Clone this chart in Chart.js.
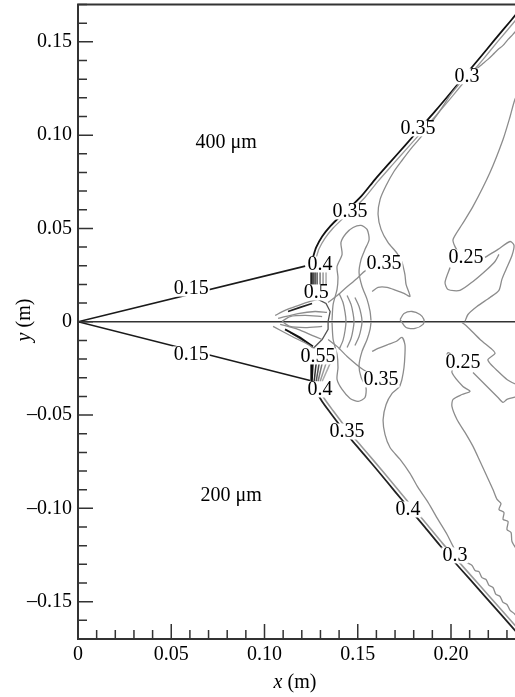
<!DOCTYPE html>
<html>
<head>
<meta charset="utf-8">
<title>Contours autour du cône</title>
<script src="https://cdn.jsdelivr.net/npm/chart.js@4.4.1/dist/chart.umd.min.js"></script>
<style>
html, body { margin: 0; padding: 0; background: #fff; overflow: hidden; }
#wrap { width: 540px; height: 697px; }
</style>
</head>
<body>
<div id="wrap"><canvas id="chart" width="540" height="697"></canvas></div>
<script>
const SERIF = '"Liberation Serif", "Times New Roman", serif';

// axes
const xTicks = [0, 0.05, 0.10, 0.15, 0.20];
const xTickLabels = ['0', '0.05', '0.10', '0.15', '0.20'];
const yTicks = [-0.15, -0.10, -0.05, 0, 0.05, 0.10, 0.15];
const yTickLabels = ['\u20130.15', '\u20130.10', '\u20130.05', '0', '0.05', '0.10', '0.15'];

// corps conique + axe de symétrie
const coneUpper = [[0, 0], [0.1218, 0.0298]];
const coneLower = [[0, 0], [0.1244, -0.0315]];
const axisLine = [[0, 0], [0.25, 0]];

// choc détaché (haut / bas) et sa ligne grise voisine
const shockUpper = [[0.1260,0.0345],[0.1277,0.0398],[0.1309,0.0457],[0.1352,0.0511],[0.1405,0.0564],[0.1459,0.0613],[0.1523,0.0677],[0.1593,0.0763],[0.1673,0.0854],[0.1753,0.0944],[0.1834,0.1036],[0.1914,0.1127],[0.1995,0.1223],[0.2075,0.1320],[0.2156,0.1416],[0.2236,0.1513],[0.2317,0.1609],[0.2397,0.1706]];
const shockUpperInner = [[0.1275,0.0335],[0.1292,0.0390],[0.1324,0.0447],[0.1367,0.0501],[0.1420,0.0553],[0.1474,0.0602],[0.1538,0.0666],[0.1608,0.0752],[0.1688,0.0843],[0.1768,0.0933],[0.1849,0.1025],[0.1929,0.1116],[0.2010,0.1212],[0.2090,0.1309],[0.2171,0.1405],[0.2251,0.1502],[0.2332,0.1598],[0.2412,0.1695]];
const shockLower = [[0.1255,-0.0331],[0.1277,-0.0374],[0.1309,-0.0427],[0.1352,-0.0486],[0.1405,-0.0556],[0.1469,-0.0636],[0.1539,-0.0717],[0.1620,-0.0813],[0.1700,-0.0910],[0.1780,-0.1006],[0.1861,-0.1102],[0.1941,-0.1199],[0.2021,-0.1290],[0.2102,-0.1381],[0.2182,-0.1472],[0.2263,-0.1563],[0.2343,-0.1654],[0.2423,-0.1745]];
const shockLowerInner = [[0.1270,-0.0322],[0.1292,-0.0364],[0.1324,-0.0417],[0.1367,-0.0476],[0.1420,-0.0546],[0.1484,-0.0626],[0.1554,-0.0707],[0.1635,-0.0803],[0.1715,-0.0899],[0.1795,-0.0996],[0.1876,-0.1092],[0.1956,-0.1189],[0.2036,-0.1280],[0.2117,-0.1371],[0.2197,-0.1462],[0.2278,-0.1553],[0.2358,-0.1644],[0.2438,-0.1735]];

// iso-lignes 0.35 / 0.3 derrière le choc
const contourUpper = [[0.1341,0.0103],[0.1384,0.0136],[0.1432,0.0178],[0.1496,0.0232],[0.1544,0.0275],[0.1641,0.0302],[0.1727,0.0329],[0.1711,0.0366],[0.1662,0.0425],[0.1625,0.0495],[0.1609,0.0575],[0.1620,0.0656],[0.1652,0.0730],[0.1694,0.0805],[0.1737,0.0864],[0.1791,0.0934],[0.1855,0.1009],[0.1904,0.1079],[0.1952,0.1148],[0.1995,0.1213],[0.2037,0.1266],[0.2086,0.1320],[0.2134,0.1352],[0.2166,0.1379],[0.2198,0.1406],[0.2225,0.1432],[0.2252,0.1459],[0.2279,0.1481],[0.2306,0.1513],[0.2332,0.1540],[0.2370,0.1583],[0.2413,0.1631]];
const contourLower = [[0.1341,-0.0095],[0.1389,-0.0132],[0.1443,-0.0186],[0.1528,-0.0256],[0.1625,-0.0309],[0.1727,-0.0341],[0.1684,-0.0384],[0.1652,-0.0443],[0.1636,-0.0524],[0.1646,-0.0604],[0.1673,-0.0674],[0.1727,-0.0738],[0.1780,-0.0813],[0.1823,-0.0888],[0.1877,-0.0968],[0.1930,-0.1059],[0.1979,-0.1140],[0.2021,-0.1220],[0.2086,-0.1290],[0.2113,-0.1306],[0.2129,-0.1333],[0.2150,-0.1339],[0.2166,-0.1371],[0.2188,-0.1381],[0.2204,-0.1413],[0.2225,-0.1424],[0.2241,-0.1461],[0.2263,-0.1472],[0.2279,-0.1504],[0.2300,-0.1515],[0.2317,-0.1547],[0.2338,-0.1563],[0.2370,-0.1606],[0.2413,-0.1660]];
const squiggleUpper = [[0.1737,0.0323],[0.1753,0.0253],[0.1759,0.0200],[0.1780,0.0136],[0.1748,0.0152],[0.1705,0.0168],[0.1657,0.0184],[0.1609,0.0184],[0.1577,0.0162]];
const squiggleLower = [[0.1577,-0.0159],[0.1609,-0.0143],[0.1662,-0.0122],[0.1705,-0.0106],[0.1737,-0.0084],[0.1753,-0.0122],[0.1753,-0.0175],[0.1748,-0.0245],[0.1737,-0.0309],[0.1727,-0.0341]];
const ringAxis = [[0.1727,0.0012],[0.1748,0.0044],[0.1791,0.0055],[0.1834,0.0039],[0.1855,0.0012],[0.1850,-0.0014],[0.1807,-0.0036],[0.1759,-0.0031],[0.1727,0.0012]];

// zone de recirculation au culot
const lobeUpper = [[0.1362,0.0007],[0.1368,0.0093],[0.1389,0.0173],[0.1394,0.0237],[0.1389,0.0296],[0.1416,0.0361],[0.1410,0.0425],[0.1437,0.0473],[0.1475,0.0505],[0.1518,0.0516],[0.1550,0.0495],[0.1561,0.0441],[0.1539,0.0388],[0.1518,0.0334],[0.1507,0.0264],[0.1523,0.0189],[0.1550,0.0120],[0.1566,0.0055],[0.1571,0.0007]];
const lobeLower = [[0.1362,-0.0004],[0.1368,-0.0095],[0.1389,-0.0175],[0.1394,-0.0245],[0.1389,-0.0309],[0.1416,-0.0363],[0.1459,-0.0411],[0.1502,-0.0427],[0.1539,-0.0406],[0.1544,-0.0352],[0.1518,-0.0298],[0.1507,-0.0234],[0.1523,-0.0159],[0.1550,-0.0095],[0.1566,-0.0041],[0.1571,-0.0004]];
const arc1 = [[0.1400,0.0152],[0.1421,0.0103],[0.1432,0.0050],[0.1437,0.0002],[0.1432,-0.0047],[0.1421,-0.0100],[0.1400,-0.0148]];
const arc2 = [[0.1443,0.0141],[0.1464,0.0093],[0.1475,0.0044],[0.1480,0.0002],[0.1475,-0.0041],[0.1464,-0.0090],[0.1443,-0.0138]];
const arc3 = [[0.1485,0.0130],[0.1507,0.0082],[0.1518,0.0039],[0.1523,0.0002],[0.1518,-0.0036],[0.1507,-0.0079],[0.1485,-0.0127]];
const bulbRim = [[0.1287,0.0120],[0.1330,0.0098],[0.1352,0.0055],[0.1341,0.0002],[0.1341,-0.0041],[0.1309,-0.0095],[0.1266,-0.0138]];
const lipUpperOuter = [[0.1057,0.0034],[0.1110,0.0061],[0.1180,0.0087],[0.1244,0.0109],[0.1287,0.0120]];
const lipUpperInner = [[0.1073,0.0018],[0.1180,0.0044],[0.1271,0.0055],[0.1335,0.0050]];
const lipUpperDark = [[0.1126,0.0055],[0.1191,0.0077],[0.1255,0.0098]];
const lipLowerOuter = [[0.1046,-0.0025],[0.1148,-0.0079],[0.1234,-0.0122],[0.1271,-0.0148]];
const lipLowerInner = [[0.1084,-0.0014],[0.1180,-0.0041],[0.1255,-0.0073],[0.1309,-0.0095]];
const lipLowerDark = [[0.1110,-0.0041],[0.1191,-0.0084],[0.1260,-0.0132]];
const lipLowerDark2 = [[0.1137,-0.0057],[0.1218,-0.0106],[0.1266,-0.0143]];
const noseUpper = [[0.1094,0.0002],[0.1137,0.0028],[0.1218,0.0034],[0.1309,0.0028]];
const noseLower = [[0.1094,0.0002],[0.1137,-0.0025],[0.1218,-0.0031],[0.1309,-0.0025]];

// faisceaux serrés au culot
const baseUpperX = [0.1250, 0.1260, 0.1271, 0.1282, 0.1298, 0.1314, 0.1330];
const baseUpperY = [0.0270, 0.0189];
const baseLowerTopX = [0.1250, 0.1260, 0.1277, 0.1293, 0.1309, 0.1330, 0.1352];
const baseLowerBottomX = [0.1250, 0.1255, 0.1266, 0.1277, 0.1287, 0.1298, 0.1309];
const baseLowerY = [-0.0223, -0.0320];
const baseShades = ['#000', '#111', '#333', '#555', '#777', '#999', '#aaa'];

// iso-lignes 0.25 côté aval
const right1 = [[0.2381,0.1272],[0.2343,0.1192],[0.2317,0.1100],[0.2279,0.0977],[0.2209,0.0800],[0.2118,0.0618],[0.2059,0.0521],[0.2011,0.0441],[0.2021,0.0404],[0.2048,0.0361]];
const right2 = [[0.2182,0.0345],[0.2252,0.0388],[0.2317,0.0430],[0.2338,0.0409],[0.2327,0.0355],[0.2295,0.0280],[0.2273,0.0227],[0.2257,0.0168],[0.2209,0.0130],[0.2139,0.0082],[0.2091,0.0039],[0.2075,0.0002]];
const right3 = [[0.1995,0.0291],[0.1968,0.0211],[0.1984,0.0173],[0.2048,0.0168],[0.2118,0.0216],[0.2193,0.0280],[0.2236,0.0323],[0.2257,0.0361]];
const rightLow1 = [[0.2059,-0.0004],[0.2086,-0.0025],[0.2156,-0.0095],[0.2220,-0.0148],[0.2236,-0.0170],[0.2198,-0.0202],[0.2209,-0.0223],[0.2247,-0.0261],[0.2300,-0.0309],[0.2359,-0.0341]];
const rightLow2 = [[0.2118,-0.0272],[0.2193,-0.0347],[0.2252,-0.0406],[0.2279,-0.0432],[0.2300,-0.0416],[0.2359,-0.0400]];
const rightLow3 = [[0.1973,-0.0186],[0.1984,-0.0165],[0.2005,-0.0181],[0.2016,-0.0229],[0.2005,-0.0272],[0.2064,-0.0347],[0.2102,-0.0373],[0.2059,-0.0390],[0.2011,-0.0416],[0.2005,-0.0454],[0.2032,-0.0524],[0.2075,-0.0593],[0.2118,-0.0668],[0.2156,-0.0749],[0.2193,-0.0829],[0.2225,-0.0899],[0.2247,-0.0952],[0.2268,-0.0974],[0.2257,-0.1006],[0.2284,-0.1022],[0.2279,-0.1059],[0.2306,-0.1070],[0.2300,-0.1113],[0.2322,-0.1129],[0.2327,-0.1178],[0.2359,-0.1231]];

// étiquettes des iso-lignes
const contourLabels = [
  [0.0607, 0.0178, '0.15'], [0.0607, -0.0175, '0.15'],
  [0.1298, 0.0307, '0.4'], [0.1277, 0.0157, '0.5'],
  [0.1287, -0.0186, '0.55'], [0.1298, -0.0363, '0.4'],
  [0.1459, 0.0591, '0.35'], [0.1823, 0.1036, '0.35'], [0.2086, 0.1315, '0.3'],
  [0.1641, 0.0312, '0.35'], [0.1625, -0.0309, '0.35'],
  [0.2080, 0.0345, '0.25'], [0.2064, -0.0218, '0.25'],
  [0.1443, -0.0588, '0.35'], [0.1770, -0.1006, '0.4'], [0.2021, -0.1252, '0.3']
];
const caseLabels = [[0.0794, 0.0961, '400 \u03bcm'], [0.0821, -0.0931, '200 \u03bcm']];

const GRAY = '#8c8c8c';
const toPts = arr => arr.map(([x, y]) => ({ x, y }));
function line(points, color, width, tension = 0.25) {
  return { data: toPts(points), showLine: true, borderColor: color, borderWidth: width,
    pointRadius: 0, pointHoverRadius: 0, fill: false, tension: tension };
}

const datasets = [];
[contourUpper, contourLower, squiggleUpper, squiggleLower, ringAxis, lobeUpper, lobeLower,
 arc1, arc2, arc3, right1, right2, right3, rightLow1, rightLow2, rightLow3,
 lipUpperOuter, lipUpperInner, lipLowerOuter, lipLowerInner, noseUpper, noseLower]
  .forEach(p => datasets.push(line(p, GRAY, 1.3)));
datasets.push(line(shockUpperInner, '#999', 1.3));
datasets.push(line(shockLowerInner, '#999', 1.6));
datasets.push(line(bulbRim, '#555', 1.3, 0));
datasets.push(line(lipUpperDark, '#222', 1.6, 0));
datasets.push(line(lipLowerDark, '#111', 1.8, 0));
datasets.push(line(lipLowerDark2, '#444', 1.4, 0));
baseUpperX.forEach((x, i) => datasets.push(line([[x, baseUpperY[0]], [x, baseUpperY[1]]], baseShades[i], 1.5, 0)));
baseLowerTopX.forEach((x, i) => datasets.push(line([[x, baseLowerY[0]], [baseLowerBottomX[i], baseLowerY[1]]], baseShades[i], 1.5, 0)));
datasets.push(line(shockUpper, '#111', 1.8));
datasets.push(line(shockLower, '#222', 1.8));
datasets.push(line(coneUpper, '#1a1a1a', 1.6, 0));
datasets.push(line(coneLower, '#1a1a1a', 1.6, 0));
datasets.push(line(axisLine, '#333', 1.6, 0));

// étiquettes, graduations internes, cadre, titres d'axes
const overlay = {
  id: 'overlay',
  afterDatasetsDraw(chart) {
    const { ctx, scales: { x, y } } = chart;
    ctx.save();
    ctx.font = '20px ' + SERIF;
    ctx.textAlign = 'center';
    ctx.textBaseline = 'middle';
    contourLabels.forEach(([vx, vy, t]) => {
      const px = x.getPixelForValue(vx), py = y.getPixelForValue(vy);
      const w = ctx.measureText(t).width;
      ctx.fillStyle = '#fff';
      ctx.fillRect(px - w / 2 - 1, py - 8, w + 2, 16);
      ctx.fillStyle = '#000';
      ctx.fillText(t, px, py);
    });
    caseLabels.forEach(([vx, vy, t]) => {
      ctx.fillText(t, x.getPixelForValue(vx), y.getPixelForValue(vy));
    });
    ctx.restore();
  },
  afterDraw(chart) {
    const { ctx, chartArea: a, scales: { x, y } } = chart;
    ctx.save();
    ctx.strokeStyle = '#333';
    ctx.lineWidth = 1.5;
    ctx.beginPath();
    for (let i = 0; i <= 24; i++) {
      const px = x.getPixelForValue(i / 100);
      const len = i % 5 === 0 ? 15 : 9;
      ctx.moveTo(px, a.bottom);
      ctx.lineTo(px, a.bottom - len);
    }
    for (let i = -17; i <= 17; i++) {
      const py = y.getPixelForValue(i / 100);
      const len = i % 5 === 0 ? 15 : 9;
      ctx.moveTo(a.left, py);
      ctx.lineTo(a.left + len, py);
    }
    ctx.stroke();
    ctx.lineWidth = 2;
    ctx.strokeRect(a.left, a.top, a.right - a.left, a.bottom - a.top);

    // titres avec variable en italique
    ctx.fillStyle = '#000';
    ctx.textBaseline = 'alphabetic';
    ctx.textAlign = 'left';
    const title = (v, rest) => {
      ctx.font = 'italic 20px ' + SERIF;
      const w1 = ctx.measureText(v).width;
      ctx.font = '20px ' + SERIF;
      const w2 = ctx.measureText(rest).width;
      return [w1, w2];
    };
    let [w1, w2] = title('x', ' (m)');
    let sx = 295 - (w1 + w2) / 2;
    ctx.font = 'italic 20px ' + SERIF;
    ctx.fillText('x', sx, 688);
    ctx.font = '20px ' + SERIF;
    ctx.fillText(' (m)', sx + w1, 688);

    [w1, w2] = title('y', ' (m)');
    ctx.translate(30, 320);
    ctx.rotate(-Math.PI / 2);
    sx = -(w1 + w2) / 2;
    ctx.font = 'italic 20px ' + SERIF;
    ctx.fillText('y', sx, 0);
    ctx.font = '20px ' + SERIF;
    ctx.fillText(' (m)', sx + w1, 0);
    ctx.restore();
  }
};

new Chart(document.getElementById('chart'), {
  type: 'scatter',
  data: { datasets: datasets },
  options: {
    responsive: false,
    animation: false,
    layout: { padding: { top: 4.5, right: 14.4, left: 0, bottom: 0 } },
    plugins: { legend: { display: false }, tooltip: { enabled: false } },
    scales: {
      x: {
        type: 'linear', min: 0, max: 0.24,
        grid: { display: false, drawTicks: false },
        border: { display: false },
        ticks: { autoSkip: false, maxRotation: 0, padding: 4, color: '#000',
          font: { family: SERIF, size: 20 }, callback: (v, i) => xTickLabels[i] },
        afterBuildTicks: s => { s.ticks = xTicks.map(v => ({ value: v })); },
        afterFit: s => { s.height = 58; s.paddingLeft = 0; s.paddingRight = 0; }
      },
      y: {
        type: 'linear', min: -0.17, max: 0.17,
        grid: { display: false, drawTicks: false },
        border: { display: false },
        ticks: { autoSkip: false, padding: 6, color: '#000',
          font: { family: SERIF, size: 20 }, callback: (v, i) => yTickLabels[i] },
        afterBuildTicks: s => { s.ticks = yTicks.map(v => ({ value: v })); },
        afterFit: s => { s.width = 78; s.paddingTop = 0; s.paddingBottom = 0; }
      }
    }
  },
  plugins: [overlay]
});
</script>
</body>
</html>
